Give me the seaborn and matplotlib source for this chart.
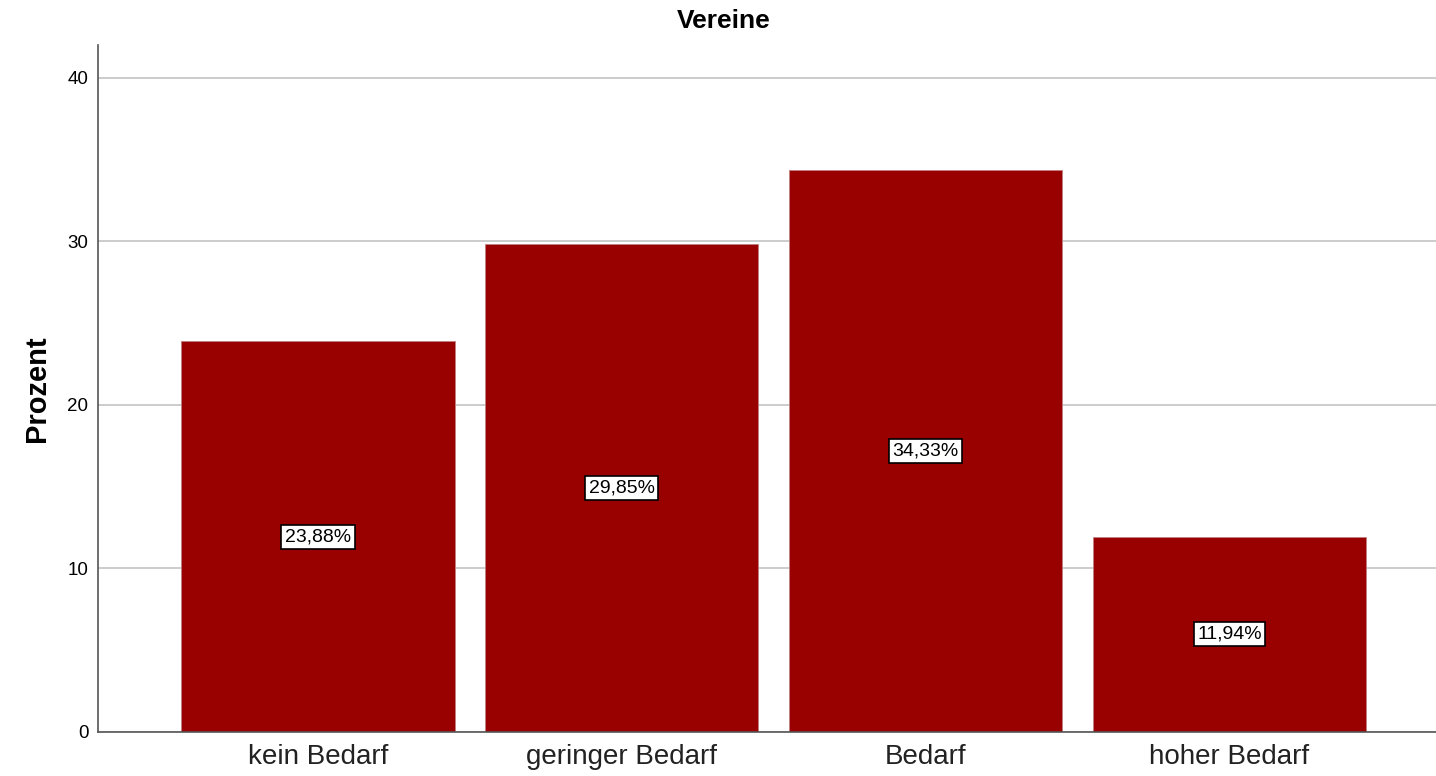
import seaborn as sns
from matplotlib import pyplot as plt

categories = ["kein Bedarf", "geringer Bedarf", "Bedarf", "hoher Bedarf"]
percent = [23.88, 29.85, 34.33, 11.94]
labels = ["23,88%", "29,85%", "34,33%", "11,94%"]


def plot_bars():
    sns.set_style("white")
    plt.rcParams["font.family"] = ["Liberation Sans", "DejaVu Sans"]

    fig = plt.figure(figsize=(14.36, 7.76), dpi=100)
    ax = fig.add_axes([98 / 1436, 1 - 732 / 776, (1436 - 98) / 1436, (732 - 45) / 776])

    sns.barplot(x=categories, y=percent, color="#990000", saturation=1,
                width=0.9, edgecolor="#c08080", linewidth=0.6, ax=ax, zorder=2)

    for i, (val, lab) in enumerate(zip(percent, labels)):
        ax.text(i, val / 2, lab, ha="center", va="center", fontsize=14, zorder=3,
                color="black",
                bbox=dict(boxstyle="square,pad=0.18", fc="white", ec="black", lw=1.2))

    ax.set_xlim(-0.724, 3.68)
    ax.set_ylim(0, 42)
    ax.set_yticks([0, 10, 20, 30, 40])
    ax.yaxis.grid(True, color="#c8c8c8", linewidth=1.3, zorder=0)
    ax.set_axisbelow(True)
    for side in ["top", "right"]:
        ax.spines[side].set_visible(False)
    for side in ["left", "bottom"]:
        ax.spines[side].set_color("#555555")
        ax.spines[side].set_linewidth(1.2)
    ax.tick_params(axis="y", labelsize=13.5, length=0, pad=7, colors="black")
    ax.tick_params(axis="x", labelsize=20, length=0, pad=9, colors="#222222")

    ax.set_ylabel("Prozent", fontsize=21, fontweight="bold", labelpad=12, color="black")
    fig.text(724 / 1436, 1 - 21 / 776, "Vereine", fontsize=19, fontweight="bold",
             ha="center", va="center", color="black")

    fig.savefig("out.png", dpi=100)


if __name__ == "__main__":
    plot_bars()
